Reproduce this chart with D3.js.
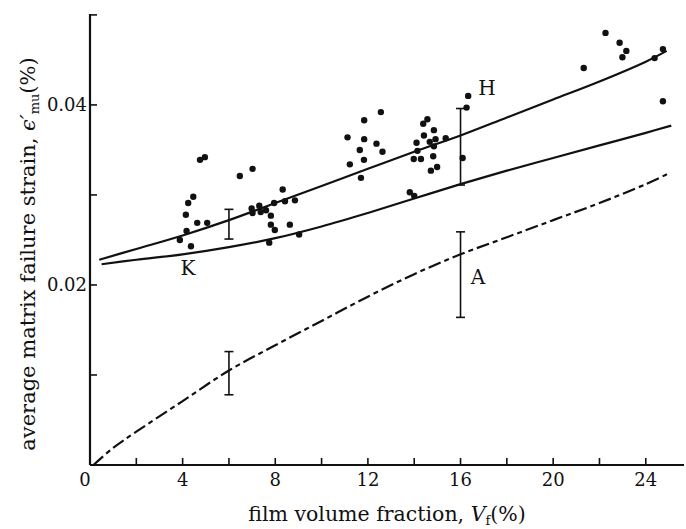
<!DOCTYPE html>
<html>
<head>
<meta charset="utf-8">
<script src="https://cdn.jsdelivr.net/npm/d3@7"></script>
<style>
  body { margin: 0; background: #fff; }
  text { font-family: "DejaVu Serif", "Liberation Serif", serif; fill: #111; }
</style>
</head>
<body>
<div id="chart"></div>
<script>
// measured points (film volume fraction %, strain %)
var pointsV = [4.75, 4.96, 6.47, 7.02, 4.46, 4.24, 4.14, 4.17, 3.88, 4.36, 4.63, 5.06,
    6.98, 7.02, 7.31, 7.37, 7.60, 7.81, 7.95, 8.32, 8.42, 8.85, 7.81, 7.98, 8.63, 9.03, 7.74,
    12.56, 11.84, 11.12, 11.84, 12.37, 11.65, 12.63, 11.22, 11.83, 11.70,
    14.57, 14.39, 14.85, 14.42, 14.10, 14.67, 14.92, 14.85, 15.36, 14.14, 13.98, 14.29,
    14.82, 14.99, 14.72, 13.81, 14.00, 16.33, 16.26, 16.09,
    22.26, 22.87, 23.16, 22.99, 21.32, 24.38, 24.74, 24.74];
var pointsS = [0.0339, 0.0342, 0.0321, 0.0329, 0.0298, 0.0291, 0.0278, 0.0260, 0.0250, 0.0243, 0.0269, 0.0269,
    0.0285, 0.0280, 0.0288, 0.0281, 0.0283, 0.0277, 0.0291, 0.0306, 0.0293, 0.0294, 0.0267, 0.0261, 0.0267, 0.0256, 0.0247,
    0.0392, 0.0383, 0.0364, 0.0362, 0.0357, 0.0350, 0.0348, 0.0334, 0.0339, 0.0319,
    0.0384, 0.0379, 0.0372, 0.0366, 0.0358, 0.0359, 0.0362, 0.0354, 0.0363, 0.0349, 0.0340, 0.0340,
    0.0343, 0.0331, 0.0327, 0.0303, 0.0299, 0.0410, 0.0397, 0.0341,
    0.0480, 0.0469, 0.0460, 0.0453, 0.0441, 0.0452, 0.0462, 0.0404];

// curve H (upper solid)
var curveHV = [0.4, 2, 4, 6, 8, 10, 12, 14, 16, 18, 20, 22, 24, 24.9];
var curveHS = [0.0228, 0.0240, 0.0255, 0.0272, 0.0291, 0.0310, 0.0329, 0.0348, 0.0366, 0.0386, 0.0406, 0.0426, 0.0448, 0.0460];
// curve K (lower solid)
var curveKV = [0.5, 2, 4, 6, 8, 10, 12, 14, 16, 18, 20, 22, 24, 25.1];
var curveKS = [0.0223, 0.0228, 0.0234, 0.0242, 0.0252, 0.0265, 0.0280, 0.0296, 0.0312, 0.0327, 0.0341, 0.0355, 0.0369, 0.0377];
// curve A (dashed)
var curveAV = [0.15, 1, 2, 4, 6, 8, 10, 12, 14, 16, 18, 20, 22, 24, 25];
var curveAS = [0.0000, 0.0019, 0.0037, 0.0071, 0.0105, 0.0133, 0.0160, 0.0187, 0.0212, 0.0234, 0.0253, 0.0272, 0.0291, 0.0312, 0.0324];

// error bars
var barV = [6, 16, 16, 6];
var barLo = [0.0251, 0.0311, 0.0164, 0.0078];
var barHi = [0.0284, 0.0396, 0.0259, 0.0126];

var xTicks = [2, 4, 6, 8, 10, 12, 14, 16, 18, 20, 22, 24];
var xLabels = [4, 8, 12, 16, 20, 24];
var yTicks = [0.01, 0.02, 0.03, 0.04, 0.05];
var yLabels = [0.02, 0.04];

var width = 686, height = 529;
var svg = d3.select("#chart").append("svg")
    .attr("width", width)
    .attr("height", height);

var x = d3.scaleLinear().domain([0, 25.65]).range([90, 684]);
var y = d3.scaleLinear().domain([0, 0.0501]).range([465, 14]);

// axes
svg.append("line")
    .attr("x1", x(0)).attr("x2", x(25.65))
    .attr("y1", y(0)).attr("y2", y(0))
    .attr("stroke", "#111").attr("stroke-width", 2.2);
svg.append("line")
    .attr("x1", x(0)).attr("x2", x(0))
    .attr("y1", y(0)).attr("y2", y(0.0501))
    .attr("stroke", "#111").attr("stroke-width", 2.2);

svg.selectAll("line.xtick")
    .data(xTicks)
    .enter().append("line")
    .attr("class", "xtick")
    .attr("x1", function(d) { return x(d); })
    .attr("x2", function(d) { return x(d); })
    .attr("y1", y(0)).attr("y2", y(0) - 7)
    .attr("stroke", "#111").attr("stroke-width", 1.6);

svg.selectAll("line.ytick")
    .data(yTicks)
    .enter().append("line")
    .attr("class", "ytick")
    .attr("x1", x(0)).attr("x2", x(0) + 7)
    .attr("y1", function(d) { return y(d); })
    .attr("y2", function(d) { return y(d); })
    .attr("stroke", "#111").attr("stroke-width", 1.6);

svg.selectAll("text.xlab")
    .data(xLabels)
    .enter().append("text")
    .attr("class", "xlab")
    .attr("x", function(d) { return x(d); })
    .attr("y", 486)
    .attr("text-anchor", "middle")
    .style("font-size", "18px")
    .text(function(d) { return d; });

svg.append("text")
    .attr("x", 85).attr("y", 486)
    .attr("text-anchor", "middle")
    .style("font-size", "18px")
    .text("0");

svg.selectAll("text.ylab")
    .data(yLabels)
    .enter().append("text")
    .attr("class", "ylab")
    .attr("x", 87)
    .attr("y", function(d) { return y(d); })
    .attr("dy", "0.35em")
    .attr("text-anchor", "end")
    .style("font-size", "18px")
    .text(function(d) { return d.toFixed(2); });

// axis titles
var xt = svg.append("text")
    .attr("x", 387).attr("y", 521)
    .attr("text-anchor", "middle")
    .style("font-size", "20.5px");
xt.append("tspan").text("film volume fraction, ");
xt.append("tspan").style("font-style", "italic").text("V");
xt.append("tspan").attr("dy", 4).style("font-size", "13px").text("f");
xt.append("tspan").attr("dy", -4).text("(%)");

var yt = svg.append("text")
    .attr("transform", "translate(35,254) rotate(-90)")
    .attr("text-anchor", "middle")
    .style("font-size", "21px");
yt.append("tspan").text("average matrix failure strain, ");
yt.append("tspan").style("font-style", "italic").text("\u03f5\u2032");
yt.append("tspan").attr("dy", 4).style("font-size", "13px").text("mu");
yt.append("tspan").attr("dy", -4).text("(%)");

// curves
var line = d3.line()
    .x(function(d) { return x(d[0]); })
    .y(function(d) { return y(d[1]); })
    .curve(d3.curveCatmullRom);

svg.append("path")
    .datum(d3.zip(curveHV, curveHS))
    .attr("d", line)
    .attr("fill", "none").attr("stroke", "#111").attr("stroke-width", 2.2);
svg.append("path")
    .datum(d3.zip(curveKV, curveKS))
    .attr("d", line)
    .attr("fill", "none").attr("stroke", "#111").attr("stroke-width", 2.2);
svg.append("path")
    .datum(d3.zip(curveAV, curveAS))
    .attr("d", line)
    .attr("fill", "none").attr("stroke", "#111").attr("stroke-width", 2.2)
    .attr("stroke-dasharray", "13,4,5,4");

// error bars
var bars = svg.selectAll("g.bar")
    .data(d3.range(barV.length))
    .enter().append("g")
    .attr("class", "bar")
    .attr("stroke", "#111").attr("stroke-width", 1.6);
bars.append("line")
    .attr("x1", function(i) { return x(barV[i]); })
    .attr("x2", function(i) { return x(barV[i]); })
    .attr("y1", function(i) { return y(barLo[i]); })
    .attr("y2", function(i) { return y(barHi[i]); });
bars.append("line")
    .attr("x1", function(i) { return x(barV[i]) - 4.5; })
    .attr("x2", function(i) { return x(barV[i]) + 4.5; })
    .attr("y1", function(i) { return y(barLo[i]); })
    .attr("y2", function(i) { return y(barLo[i]); });
bars.append("line")
    .attr("x1", function(i) { return x(barV[i]) - 4.5; })
    .attr("x2", function(i) { return x(barV[i]) + 4.5; })
    .attr("y1", function(i) { return y(barHi[i]); })
    .attr("y2", function(i) { return y(barHi[i]); });

// points
svg.selectAll("circle.pt")
    .data(d3.zip(pointsV, pointsS))
    .enter().append("circle")
    .attr("class", "pt")
    .attr("cx", function(d) { return x(d[0]); })
    .attr("cy", function(d) { return y(d[1]); })
    .attr("r", 3.2)
    .attr("fill", "#111");

// curve labels
svg.append("text").attr("x", 188).attr("y", 275).attr("text-anchor", "middle")
    .style("font-size", "20px").text("K");
svg.append("text").attr("x", 487).attr("y", 95).attr("text-anchor", "middle")
    .style("font-size", "20px").text("H");
svg.append("text").attr("x", 478).attr("y", 284).attr("text-anchor", "middle")
    .style("font-size", "20px").text("A");
</script>
</body>
</html>
